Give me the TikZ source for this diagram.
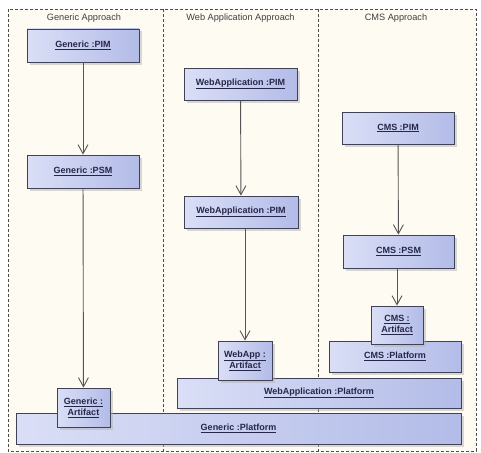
\documentclass[tikz,border=0pt]{standalone}
\usepackage{fontspec}
\setmainfont{Liberation Sans}
\usetikzlibrary{shadows}
\usetikzlibrary{arrows.meta}
\definecolor{boxlight}{HTML}{DADFF6}
\definecolor{boxdark}{HTML}{B3BCE8}
\definecolor{boxline}{HTML}{3F4157}
\definecolor{boxtext}{HTML}{26264A}
\definecolor{lanefill}{HTML}{FDFBF2}
\definecolor{arrowline}{HTML}{555555}
\newcommand{\uln}[1]{\underline{#1}}
\tikzstyle{instance} = [draw=boxline, line width=0.9pt, rectangle, left color=boxlight, right color=boxdark, drop shadow={shadow xshift=2.5pt, shadow yshift=-2.5pt, fill=black!30}, text=boxtext, font=\fontsize{9}{11}\selectfont\bfseries, align=center, inner sep=0pt]
\tikzstyle{lane} = [draw=black!70, line width=0.7pt, dash pattern=on 3pt off 2pt]
\tikzstyle{lanetitle} = [font=\fontsize{9.2}{11}\selectfont, text=black!75]
\tikzstyle{flow} = [draw=arrowline, line width=0.9pt, -{Straight Barb[length=9pt,width=10pt]}]

\begin{document}
\begin{tikzpicture}[x=1pt,y=-1pt]
    \useasboundingbox (0,0) rectangle (481,452);
    % swimlanes
    \fill[lanefill] (8,9) rectangle (476,451);
    \draw[lane] (8,9) rectangle (476,451);
    \draw[lane] (163,9) -- (163,451);
    \draw[lane] (318,9) -- (318,451);
    \node[lanetitle] (genlane) at (84,18) {Generic Approach};
    \node[lanetitle] (weblane) at (240.5,18) {Web Application Approach};
    \node[lanetitle] (cmslane) at (396,18) {CMS Approach};

    % models
    \node[instance, minimum width=112pt, minimum height=33pt] (genpim) at (83,45.5) {\uln{Generic :PIM}};
    \node[instance, minimum width=112pt, minimum height=33pt] (genpsm) at (83,171.5) {\uln{Generic :PSM}};
    \node[instance, minimum width=113pt, minimum height=32pt] (webpimtop) at (240.5,84) {\uln{WebApplication :PIM}};
    \node[instance, minimum width=114pt, minimum height=32pt] (webpim) at (241,212) {\uln{WebApplication :PIM}};
    \node[instance, minimum width=112pt, minimum height=32pt] (cmspim) at (398,128) {\uln{CMS :PIM}};
    \node[instance, minimum width=111pt, minimum height=33pt] (cmspsm) at (398.5,251.5) {\uln{CMS :PSM}};

    % platforms
    \node[instance, minimum width=445pt, minimum height=31pt] (genplat) at (238.5,428.5) {\uln{Generic :Platform}};
    \node[instance, minimum width=284pt, minimum height=30pt] (webplat) at (319,393) {\uln{WebApplication :Platform}};
    \node[instance, minimum width=132pt, minimum height=31pt] (cmsplat) at (395,356.5) {\uln{CMS :Platform}};

    % artifacts
    \node[instance, minimum width=53pt, minimum height=39pt] (genart) at (83.5,407.5) {\uln{Generic :}\\\uln{Artifact}};
    \node[instance, minimum width=54pt, minimum height=39pt] (webart) at (245,360.5) {\uln{WebApp :}\\\uln{Artifact}};
    \node[instance, minimum width=52pt, minimum height=38pt] (cmsart) at (397,325) {\uln{CMS :}\\\uln{Artifact}};

    \draw[flow] (genpim) -- (genpsm);
    \draw[flow] (genpsm) -- (genart);
    \draw[flow] (webpimtop) -- (webpim);
    \draw[flow] (webpim.south -| webart) -- (webart);
    \draw[flow] (cmspim) -- (cmspsm);
    \draw[flow] (cmspsm.south -| cmsart) -- (cmsart);
\end{tikzpicture}
\end{document}
